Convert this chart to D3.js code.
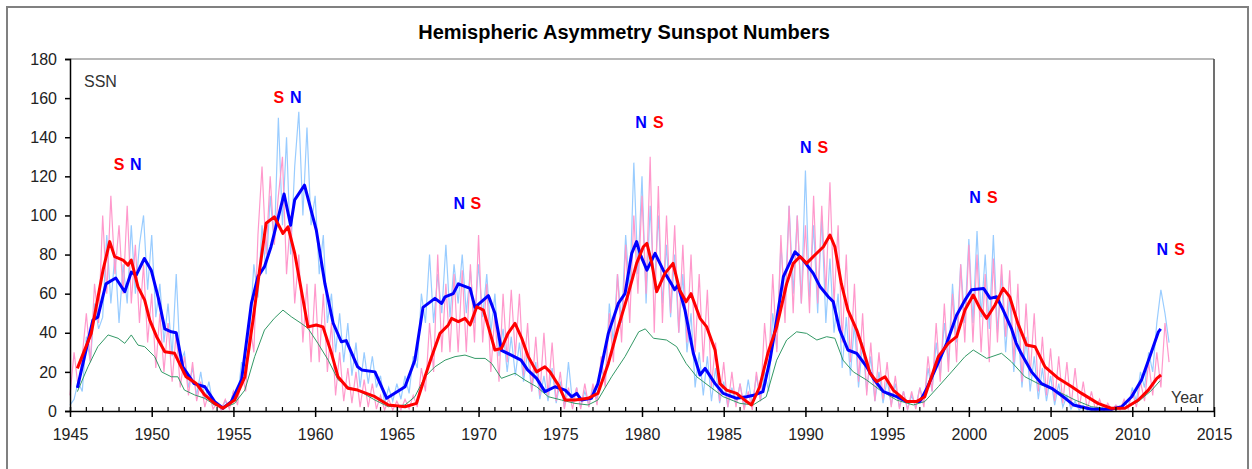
<!DOCTYPE html>
<html>
<head>
<meta charset="utf-8">
<script src="https://cdn.jsdelivr.net/npm/d3@7"></script>
<style>
  body { margin: 0; background: #fff; }
  svg { display: block; font-family: "Liberation Sans", Arial, sans-serif; }
</style>
</head>
<body>
<svg id="chart" width="1252" height="469"></svg>
<script>
// Quarterly samples of the monthly hemispheric numbers, starting 1945.0.
const monthlyStart = 1945.0;
const monthlyStep = 0.25;

const northMonthly = [
  3, 6, 15, 10,  38, 25, 55, 42,  48, 90, 55, 80,  45, 75, 55, 95,  60, 85, 100, 62,
  90, 48, 65, 35,  55, 28, 70, 25,  30, 12, 22, 8,  20, 6, 15, 3,  4, 1, 5, 2,
  10, 6, 25, 20,  40, 75, 58, 95,  70, 110, 85, 150,  95, 140, 80, 125,  153, 100, 145, 95,
  110, 70, 90, 45,  60, 30, 50, 25,  45, 18, 35, 12,  30, 14, 28, 12,  18, 4, 12, 5,
  14, 6, 18, 9,  28, 22, 60, 45,  80, 45, 70, 50,  85, 48, 75, 55,  80, 50, 72, 45,
  75, 48, 70, 40,  60, 28, 42, 20,  38, 18, 35, 15,  30, 10, 25, 6,  18, 5, 22, 4,
  15, 2, 25, 4,  12, 2, 10, 3,  12, 6, 22, 15,  55, 35, 70, 45,  90, 60, 127, 70,
  120, 55, 105, 62,  100, 55, 85, 48,  80, 40, 70, 30,  50, 12, 30, 8,  28, 5, 22, 4,
  15, 2, 12, 3,  14, 2, 16, 3,  18, 5, 20, 10,  50, 32, 85, 55,  105, 60, 100, 55,
  123, 58, 95, 50,  100, 45, 78, 40,  60, 22, 48, 18,  45, 12, 35, 10,  28, 5, 20, 4,
  16, 3, 14, 2,  10, 1, 8, 2,  12, 4, 22, 10,  35, 18, 45, 25,  65, 35, 75, 45,
  88, 45, 92, 48,  80, 42, 90, 40,  70, 30, 60, 20,  45, 12, 38, 10,  28, 6, 22, 5,
  18, 3, 14, 2,  8, 1, 5, 0.5,  3, 0.3, 2, 0.2,  2, 0.3, 1.5, 0.5,  3, 1, 5, 2,
  12, 5, 20, 12,  30, 20, 45, 62,  50, 35
];

const southMonthly = [
  8, 30, 12, 28,  50, 25, 65, 45,  100, 60, 110, 70,  95, 60, 105, 55,  85, 45, 75, 35,
  60, 22, 50, 20,  45, 15, 40, 12,  28, 8, 25, 5,  15, 2, 10, 1,  4, 0.5, 6, 1,
  10, 3, 20, 10,  45, 30, 90, 125,  80, 120, 85, 110,  130, 70, 100, 55,  80, 35, 65, 25,
  65, 25, 60, 20,  45, 8, 30, 5,  22, 4, 20, 2,  16, 2, 14, 1,  8, 0.5, 6, 0.5,
  5, 0.5, 6, 1,  8, 2, 22, 10,  45, 20, 80, 30,  65, 30, 70, 30,  72, 30, 75, 35,
  90, 35, 65, 20,  50, 15, 60, 25,  62, 28, 60, 18,  45, 10, 38, 8,  40, 8, 35, 5,
  20, 1, 12, 1,  12, 1, 14, 2,  14, 3, 28, 12,  50, 25, 70, 35,  85, 45, 100, 60,
  110, 60, 130, 40,  115, 45, 100, 50,  95, 40, 85, 35,  80, 30, 70, 25,  62, 12, 35, 5,
  25, 2, 20, 2,  14, 0.5, 10, 0.5,  20, 5, 45, 20,  70, 30, 90, 45,  105, 50, 100, 55,
  95, 50, 110, 55,  105, 60, 117, 55,  95, 35, 80, 25,  65, 15, 50, 8,  35, 5, 30, 6,
  25, 2, 18, 1,  10, 0.5, 10, 1,  12, 2, 28, 10,  45, 15, 55, 20,  60, 25, 75, 35,
  85, 35, 80, 30,  70, 25, 78, 35,  75, 38, 72, 25,  65, 15, 55, 18,  50, 10, 38, 8,
  32, 5, 28, 4,  25, 2, 22, 1,  15, 0.5, 10, 0.5,  6, 0.2, 4, 0.2,  3, 0.5, 6, 1,
  10, 2, 15, 5,  25, 8, 30, 12,  45, 25
];

// Smoothed numbers, [year, value].
const northSmoothed = [
  [1945.45, 11.8], [1946.4, 46.5], [1946.7, 48], [1947.2, 65], [1947.8, 68], [1948.35, 61],
  [1948.75, 71], [1949.05, 69.5], [1949.55, 78], [1949.97, 72], [1950.4, 58], [1950.8, 42],
  [1951.2, 40.5], [1951.5, 40], [1951.9, 22.6], [1952.6, 14], [1953.25, 12.4], [1953.85, 4.8],
  [1954.36, 1.4], [1954.87, 4.8], [1955.5, 16], [1956.1, 55], [1956.5, 68.7], [1956.9, 73.8],
  [1957.3, 84], [1957.7, 97.6], [1958.1, 111], [1958.5, 95], [1958.75, 108], [1959.35, 115.5],
  [1960.07, 92.5], [1960.6, 65], [1961.1, 45], [1961.6, 35.4], [1961.9, 36], [1962.6, 22.6],
  [1962.85, 21], [1963.66, 20], [1964.38, 6.5], [1965.5, 12.4], [1966.1, 26], [1966.6, 53],
  [1967.33, 57.6], [1967.74, 55], [1967.95, 58.4], [1968.45, 60], [1968.76, 65], [1969.48, 62.7],
  [1969.78, 53], [1970.6, 59], [1971.0, 50], [1971.4, 31], [1972.0, 28.6], [1972.6, 26],
  [1973.0, 21], [1973.55, 16.7], [1974.06, 9.9], [1974.68, 12.4], [1975.3, 10.7], [1975.7, 7.3],
  [1976.0, 9], [1976.3, 5.6], [1976.9, 6.5], [1977.3, 14], [1977.94, 39.7], [1978.55, 55],
  [1978.96, 60], [1979.37, 80.6], [1979.67, 86.6], [1979.9, 80], [1980.3, 72], [1980.8, 80.6],
  [1981.3, 72], [1981.8, 65], [1982.0, 62], [1982.2, 64.4], [1982.63, 51.6], [1983.14, 29.5],
  [1983.55, 18.4], [1983.86, 21.8], [1984.47, 14], [1984.97, 9], [1985.79, 6.5], [1986.4, 7.3],
  [1986.9, 8.2], [1987.4, 9.9], [1987.83, 26], [1988.24, 46.5], [1988.65, 68.7], [1989.36, 81.4],
  [1989.87, 77.2], [1990.48, 70.4], [1990.9, 63.5], [1991.4, 58.4], [1991.7, 55.9], [1992.1, 41.4],
  [1992.6, 31.2], [1993.14, 29.5], [1993.75, 22.6], [1994.15, 16.7], [1994.77, 9.9], [1995.58, 7.3],
  [1996.2, 4.8], [1997.0, 4.8], [1997.4, 11], [1997.93, 21], [1998.64, 34.6], [1999.25, 49],
  [1999.76, 56.7], [2000.17, 62], [2000.9, 62.7], [2001.3, 57.6], [2001.7, 58.4], [2002.1, 51.6],
  [2002.6, 42.3], [2002.9, 34.6], [2003.2, 29.5], [2003.84, 20], [2004.45, 14], [2005.07, 11.6],
  [2005.9, 6.5], [2006.4, 3.1], [2007.5, 0.9], [2008.7, 0.9], [2009.35, 2.2], [2009.96, 7.3],
  [2010.57, 16], [2011.08, 28], [2011.6, 40.5], [2011.74, 42]
];

const southSmoothed = [
  [1945.45, 21.8], [1946.3, 39.7], [1947.02, 72], [1947.43, 86.6], [1947.73, 79], [1948.24, 77.2],
  [1948.55, 74.6], [1948.75, 77.2], [1949.16, 63.5], [1949.57, 56.7], [1949.88, 46.5], [1950.3, 38],
  [1950.8, 30.3], [1951.4, 29.5], [1951.8, 22.6], [1952.1, 17.5], [1952.73, 14], [1953.24, 8.2],
  [1953.85, 3.9], [1954.36, 1.4], [1955.07, 5.6], [1955.7, 17.5], [1956.2, 46.5], [1956.6, 72],
  [1957.0, 96], [1957.5, 99.3], [1958.03, 90.8], [1958.34, 94.2], [1958.75, 80.6], [1959.15, 62],
  [1959.56, 43], [1960.07, 44], [1960.48, 43], [1961.0, 29.5], [1961.4, 17.5], [1962.0, 11.6],
  [1962.6, 10.7], [1963.66, 7.3], [1964.48, 3.1], [1965.5, 2.2], [1966.2, 3.9], [1966.72, 17.5],
  [1967.13, 27.8], [1967.64, 39.7], [1968.15, 44], [1968.35, 47.4], [1968.76, 45.7], [1969.17, 47.4],
  [1969.48, 44], [1969.89, 53.3], [1970.3, 51.6], [1970.6, 43], [1971.0, 31.2], [1971.4, 32],
  [1971.8, 39.7], [1972.23, 44.8], [1972.64, 37.2], [1973.04, 27.8], [1973.55, 20], [1974.06, 22.6],
  [1974.37, 20], [1974.88, 13.3], [1975.3, 5.6], [1975.9, 5.6], [1976.7, 6.5], [1977.3, 9],
  [1977.94, 24.3], [1978.55, 43], [1979.16, 60], [1979.67, 75.5], [1980.08, 84], [1980.3, 85.7],
  [1980.6, 75.5], [1980.9, 61], [1981.4, 70.4], [1981.9, 75.5], [1982.3, 61.9], [1982.7, 55.9],
  [1983.0, 60], [1983.55, 47.4], [1983.96, 43], [1984.47, 31.2], [1984.77, 14], [1985.18, 10.7],
  [1985.79, 9], [1986.4, 4.8], [1986.7, 3.1], [1987.2, 12.4], [1987.7, 29.5], [1988.24, 43],
  [1988.85, 65], [1989.26, 75.5], [1989.67, 79], [1990.07, 75.5], [1990.58, 79.8], [1991.1, 84],
  [1991.5, 90], [1991.8, 84], [1992.2, 65], [1992.6, 51.6], [1993.14, 41.4], [1993.54, 31.2],
  [1993.95, 19.3], [1994.36, 15], [1994.87, 17.5], [1995.37, 10.7], [1996.2, 4.8], [1996.8, 4.8],
  [1997.3, 7.3], [1998.13, 27.8], [1998.74, 34.6], [1999.25, 38], [1999.76, 51.6], [2000.27, 59.3],
  [2000.68, 52.5], [2001.09, 47.4], [2001.6, 54.2], [2002.1, 62.7], [2002.5, 58.4], [2003.0, 44.8],
  [2003.53, 33.7], [2004.05, 32.9], [2004.66, 22.6], [2005.47, 16.7], [2006.3, 12.4], [2006.9, 9],
  [2007.9, 3.9], [2008.7, 1.4], [2009.55, 1.4], [2010.37, 5.6], [2010.98, 10.7], [2011.5, 16.7],
  [2011.76, 18.4]
];

const totalSmoothed = [
  [1945.45, 9.9], [1946.1, 22.6], [1946.7, 32.9], [1947.33, 38.9], [1947.94, 37.2], [1948.35, 34.6],
  [1948.75, 38.9], [1949.16, 33.7], [1949.57, 32.9], [1950.18, 27.8], [1950.6, 20], [1951.2, 17.5],
  [1951.6, 17.5], [1952.0, 10.7], [1952.63, 8.2], [1953.24, 6.5], [1953.85, 3.1], [1954.36, 1.4],
  [1955.07, 3.9], [1955.7, 10.7], [1956.3, 27.8], [1956.9, 41.4], [1957.5, 47.4], [1958.03, 51.6],
  [1958.54, 48.2], [1959.15, 44.8], [1959.56, 42.3], [1960.17, 34.6], [1960.8, 26], [1961.4, 16],
  [1962.0, 12.4], [1962.6, 10.7], [1963.66, 5.6], [1964.48, 2.2], [1965.5, 3.1], [1966.1, 7.3],
  [1966.72, 17.5], [1967.33, 22.6], [1967.95, 26], [1968.56, 27.8], [1969.17, 28.6], [1969.78, 26.9],
  [1970.4, 26.9], [1970.8, 24.3], [1971.4, 16.7], [1972.23, 19.3], [1972.84, 15.8], [1973.55, 12.4],
  [1974.27, 7.3], [1975.08, 5.6], [1975.9, 3.9], [1976.7, 3.1], [1977.3, 5.6], [1978.14, 17.5],
  [1978.96, 27.8], [1979.8, 40.5], [1980.2, 42], [1980.7, 37.2], [1981.5, 36.3], [1982.12, 32.9],
  [1982.7, 24.3], [1983.35, 17.5], [1984.16, 12.4], [1984.97, 7.3], [1985.99, 3.9], [1986.8, 3.1],
  [1987.6, 7.3], [1988.24, 26], [1988.85, 36.3], [1989.46, 40.5], [1990.07, 39.7], [1990.7, 36.3],
  [1991.3, 38], [1991.8, 37.2], [1992.3, 26], [1992.93, 20], [1993.75, 15.8], [1994.56, 10.7],
  [1995.58, 5.6], [1996.6, 3.1], [1997.3, 4.8], [1998.13, 12.4], [1998.94, 20], [1999.76, 27.8],
  [2000.27, 31.2], [2001.09, 26.9], [2002.0, 29.5], [2002.6, 25.2], [2003.43, 17.5], [2004.24, 14],
  [2005.47, 9.9], [2006.5, 5.6], [2007.5, 2.2], [2008.7, 0.9], [2009.55, 1.4], [2010.37, 4.8],
  [2011.2, 10.7], [2011.7, 15.5]
];

// Hemisphere labels above each cycle maximum: letter, year, SSN.
const labelLetters = ["S", "N", "S", "N", "N", "S", "N", "S", "N", "S", "N", "S", "N", "S"];
const labelYears = [1948.0, 1949.02, 1957.78, 1958.81, 1968.82, 1969.84, 1979.94, 1981.0,
                    1990.02, 1991.07, 2000.38, 2001.43, 2011.84, 2012.9];
const labelValues = [123, 123, 157.3, 157.3, 103.3, 103.3, 144.7, 144.7,
                     131.9, 131.9, 106.3, 106.3, 79.8, 79.8];

const yTicks = [0, 20, 40, 60, 80, 100, 120, 140, 160, 180];
const xTicks = [1945, 1950, 1955, 1960, 1965, 1970, 1975, 1980, 1985, 1990, 1995, 2000, 2005, 2010, 2015];

const svg = d3.select("#chart");
const plotLeft = 70, plotRight = 1214, plotTop = 59, plotBottom = 411;

const x = d3.scaleLinear().domain([1945, 2015]).range([plotLeft, plotRight]);
const y = d3.scaleLinear().domain([0, 180]).range([plotBottom, plotTop]);

// Outer chart border.
svg.append("rect")
  .attr("x", 7).attr("y", 7)
  .attr("width", 1241).attr("height", 480)
  .attr("fill", "none")
  .attr("stroke", "#808080")
  .attr("stroke-width", 2);

// Title.
svg.append("text")
  .attr("x", 624).attr("y", 39)
  .attr("text-anchor", "middle")
  .attr("font-size", 20)
  .attr("font-weight", "bold")
  .attr("fill", "#000")
  .text("Hemispheric Asymmetry Sunspot Numbers");

// Plot frame: top in grey, right darker.
svg.append("line")
  .attr("x1", plotLeft).attr("x2", plotRight).attr("y1", plotTop).attr("y2", plotTop)
  .attr("stroke", "#a0a0a0").attr("stroke-width", 1.5);
svg.append("line")
  .attr("x1", plotRight).attr("x2", plotRight).attr("y1", plotTop).attr("y2", plotBottom)
  .attr("stroke", "#404040").attr("stroke-width", 1.5);

const monthlyLine = d3.line()
  .x((d, i) => x(monthlyStart + i * monthlyStep))
  .y(d => y(d));
const smoothLine = d3.line()
  .x(d => x(d[0]))
  .y(d => y(d[1]));

svg.append("path")
  .datum(northMonthly)
  .attr("fill", "none")
  .attr("stroke", "#99ccff")
  .attr("stroke-width", 1.2)
  .attr("d", monthlyLine);

svg.append("path")
  .datum(southMonthly)
  .attr("fill", "none")
  .attr("stroke", "#ff99cc")
  .attr("stroke-width", 1.2)
  .attr("d", monthlyLine);

svg.append("path")
  .datum(totalSmoothed)
  .attr("fill", "none")
  .attr("stroke", "#339966")
  .attr("stroke-width", 1)
  .attr("d", smoothLine);

svg.append("path")
  .datum(northSmoothed)
  .attr("fill", "none")
  .attr("stroke", "#0000ff")
  .attr("stroke-width", 3)
  .attr("stroke-linejoin", "round")
  .attr("d", smoothLine);

svg.append("path")
  .datum(southSmoothed)
  .attr("fill", "none")
  .attr("stroke", "#ff0000")
  .attr("stroke-width", 3)
  .attr("stroke-linejoin", "round")
  .attr("d", smoothLine);

// Axes.
const yAxis = d3.axisLeft(y).tickValues(yTicks).tickSize(5).tickPadding(8);
const gy = svg.append("g")
  .attr("transform", `translate(${plotLeft},0)`)
  .call(yAxis);
gy.select(".domain").attr("stroke", "#000").attr("stroke-width", 1.5);
gy.selectAll(".tick line").attr("stroke", "#000").attr("stroke-width", 1.5);
gy.selectAll(".tick text")
  .attr("font-size", 16)
  .attr("font-family", "Liberation Sans, Arial, sans-serif")
  .attr("fill", "#222");

// Minor year ticks pointing up into the plot.
svg.append("g")
  .selectAll("line")
  .data(d3.range(1946, 2015).filter(v => v % 5 !== 0))
  .join("line")
  .attr("x1", d => x(d)).attr("x2", d => x(d))
  .attr("y1", plotBottom).attr("y2", plotBottom - 4)
  .attr("stroke", "#000").attr("stroke-width", 1.2);

const xAxis = d3.axisBottom(x).tickValues(xTicks).tickFormat(d3.format("d"))
  .tickSizeInner(6).tickSizeOuter(0).tickPadding(12);
const gx = svg.append("g")
  .attr("transform", `translate(0,${plotBottom})`)
  .call(xAxis);
gx.select(".domain").attr("stroke", "#000").attr("stroke-width", 1.5);
gx.selectAll(".tick line").attr("stroke", "#000").attr("stroke-width", 1.5).attr("y1", -4);
gx.selectAll(".tick text")
  .attr("font-size", 16)
  .attr("font-family", "Liberation Sans, Arial, sans-serif")
  .attr("fill", "#222");

// Axis captions.
svg.append("text")
  .attr("x", 84).attr("y", 87)
  .attr("font-size", 16)
  .attr("fill", "#333")
  .text("SSN");
svg.append("text")
  .attr("x", 1171).attr("y", 403)
  .attr("font-size", 16)
  .attr("fill", "#333")
  .text("Year");

// N / S labels.
svg.append("g")
  .selectAll("text")
  .data(labelLetters)
  .join("text")
  .attr("x", (d, i) => x(labelYears[i]))
  .attr("y", (d, i) => y(labelValues[i]))
  .attr("text-anchor", "middle")
  .attr("font-size", 16)
  .attr("font-weight", "bold")
  .attr("fill", d => d === "N" ? "#0000ff" : "#ff0000")
  .text(d => d);
</script>
</body>
</html>
